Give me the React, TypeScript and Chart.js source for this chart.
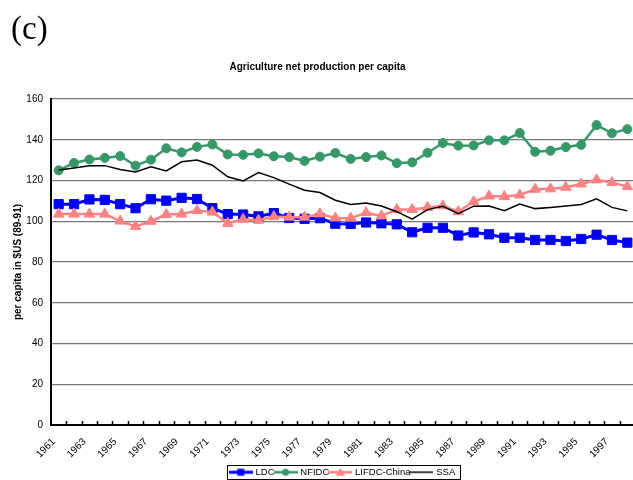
import React, { useEffect, useRef } from "react";
import { Chart, registerables } from "chart.js";

Chart.register(...registerables);

const years = [
  "1961", "1962", "1963", "1964", "1965", "1966", "1967", "1968", "1969", "1970",
  "1971", "1972", "1973", "1974", "1975", "1976", "1977", "1978", "1979", "1980",
  "1981", "1982", "1983", "1984", "1985", "1986", "1987", "1988", "1989", "1990",
  "1991", "1992", "1993", "1994", "1995", "1996", "1997", "1998",
];

const ldc = [
  108.4, 108.4, 110.7, 110.5, 108.4, 106.4, 110.8, 110.1, 111.5, 110.9,
  106.4, 103.5, 103.3, 102.4, 104.0, 101.6, 101.2, 101.5, 98.8, 98.7,
  99.4, 99.0, 98.5, 94.6, 96.8, 96.8, 93.0, 94.5, 93.6, 91.9,
  91.9, 90.8, 90.8, 90.3, 91.3, 93.4, 90.8, 89.5,
];

const nfidc = [
  125.0, 128.6, 130.3, 131.1, 132.0, 127.3, 130.2, 135.8, 133.8, 136.5,
  137.7, 132.8, 132.6, 133.3, 131.9, 131.5, 129.6, 131.7, 133.5, 130.6,
  131.5, 132.3, 128.5, 128.9, 133.6, 138.4, 137.1, 137.2, 139.7, 139.7,
  143.3, 134.1, 134.6, 136.4, 137.5, 147.2, 143.2, 145.2,
];

const lifdcChina = [
  103.5, 103.5, 103.5, 103.5, 100.1, 97.5, 100.0, 103.3, 103.5, 105.3,
  104.5, 99.0, 101.0, 100.5, 102.3, 102.0, 102.0, 103.6, 101.6, 101.5,
  104.2, 102.6, 105.8, 105.8, 106.8, 107.6, 104.7, 109.6, 112.4, 112.1,
  112.9, 115.7, 115.9, 116.7, 118.3, 120.3, 119.0, 117.0,
];

const ssa = [
  125.2, 126.1, 127.2, 127.3, 125.4, 124.2, 126.7, 124.7, 129.2, 130.1,
  127.5, 121.8, 119.8, 123.9, 121.4, 118.2, 115.2, 114.1, 110.3, 108.2,
  109.0, 107.5, 104.7, 101.0, 105.7, 107.3, 103.7, 107.4, 107.5, 105.2,
  108.4, 106.2, 106.8, 107.5, 108.2, 111.0, 106.8, 105.1,
];

const seriesNames = ["LDC", "NFIDC", "LIFDC-China", "SSA"];
const yMin = 0;
const yMax = 160;
const yStep = 20;

const FONT = "'Liberation Sans', Arial, sans-serif";

type Style = {
  color: string;
  width: number;
  point: false | "rect" | "circle" | "triangle";
  radius: number;
};

const styles: Style[] = [
  { color: "#0000FF", width: 3, point: "rect", radius: 6.5 },
  { color: "#339966", width: 2.5, point: "circle", radius: 4.5 },
  { color: "#FF8080", width: 2.5, point: "triangle", radius: 6 },
  { color: "#000000", width: 1.5, point: false, radius: 0 },
];

function makeSample(s: Style): HTMLCanvasElement {
  const c = document.createElement("canvas");
  c.width = 24;
  c.height = 12;
  const g = c.getContext("2d")!;
  g.strokeStyle = s.color;
  g.fillStyle = s.color;
  g.lineWidth = s.width;
  g.beginPath();
  g.moveTo(0, 6);
  g.lineTo(24, 6);
  g.stroke();
  if (s.point === "rect") {
    g.fillRect(8.5, 2.5, 7, 7);
  } else if (s.point === "circle") {
    g.beginPath();
    g.arc(12, 6, 3.5, 0, Math.PI * 2);
    g.fill();
  } else if (s.point === "triangle") {
    g.beginPath();
    g.moveTo(12, 1.5);
    g.lineTo(16.5, 9.5);
    g.lineTo(7.5, 9.5);
    g.closePath();
    g.fill();
  }
  return c;
}

const decorPlugin = {
  id: "decor",
  afterDraw(chart: any) {
    const ctx = chart.ctx as CanvasRenderingContext2D;
    const { left, right, bottom } = chart.chartArea;
    const n = years.length;
    ctx.save();
    ctx.strokeStyle = "#000";
    ctx.lineWidth = 1.5;
    for (let k = 1; k <= n; k++) {
      const px = Math.round(left + ((right - left) * k) / n) + 0.5;
      ctx.beginPath();
      ctx.moveTo(px, bottom);
      ctx.lineTo(px, bottom - 4);
      ctx.stroke();
    }
    const hb = chart.legend && chart.legend.legendHitBoxes;
    if (hb && hb.length) {
      let minL = Infinity;
      let maxR = -Infinity;
      hb.forEach((h: any) => {
        minL = Math.min(minL, h.left);
        maxR = Math.max(maxR, h.left + h.width);
      });
      ctx.lineWidth = 1;
      ctx.strokeStyle = "#000";
      const x0 = Math.round(minL - 4) + 0.5;
      const x1 = Math.round(maxR + 5) + 0.5;
      ctx.strokeRect(x0, 465.5, x1 - x0, 14);
    }
    ctx.restore();
  },
};

export default function App() {
  const ref = useRef<HTMLCanvasElement | null>(null);

  useEffect(() => {
    if (!ref.current) return;
    const samples = styles.map(makeSample);
    const seriesData = [ldc, nfidc, lifdcChina, ssa];
    const datasets = seriesNames.map((name, i) => {
      const s = styles[i];
      return {
        label: name,
        data: seriesData[i],
        borderColor: s.color,
        backgroundColor: s.color,
        borderWidth: s.width,
        pointStyle: s.point || "circle",
        pointRadius: s.point ? s.radius : 0,
        pointBorderWidth: 1,
        pointBorderColor: s.color,
        pointBackgroundColor: s.color,
        tension: 0,
        fill: false,
        order: seriesNames.length - i,
      };
    });

    const chart = new Chart(ref.current, {
      type: "line",
      data: { labels: years, datasets },
      plugins: [decorPlugin],
      options: {
        responsive: false,
        devicePixelRatio: 1,
        animation: false,
        layout: { padding: 0, autoPadding: false },
        plugins: {
          tooltip: { enabled: false },
          title: {
            display: true,
            text: "Agriculture net production per capita",
            color: "#000",
            font: { family: FONT, size: 10, weight: "bold" },
            padding: { top: 61, bottom: 26 },
          },
          legend: {
            display: true,
            position: "bottom",
            fullSize: false,
            labels: {
              usePointStyle: true,
              pointStyleWidth: 20,
              boxHeight: 10,
              padding: 1,
              color: "#000",
              font: { family: FONT, size: 9.5 },
              generateLabels: () =>
                seriesNames.map((name, i) => ({
                  text: name,
                  fillStyle: styles[i].color,
                  strokeStyle: styles[i].color,
                  lineWidth: 0,
                  pointStyle: samples[i] as any,
                  hidden: false,
                  datasetIndex: i,
                  fontColor: "#000",
                })),
            },
          },
        },
        scales: {
          x: {
            type: "category",
            offset: true,
            grid: {
              display: true,
              drawOnChartArea: false,
              drawTicks: false,
              offset: true,
            },
            border: { display: true, color: "#000", width: 2 },
            ticks: {
              autoSkip: false,
              maxRotation: 45,
              minRotation: 45,
              padding: 11,
              labelOffset: -5,
              color: "#000",
              font: { family: FONT, size: 10 },
              callback: (_v: any, idx: number) => (idx % 2 === 0 ? years[idx] : ""),
            },
            afterFit: (scale: any) => {
              scale.height = 41.5;
              scale.paddingLeft = 0;
              scale.paddingRight = 0;
            },
          },
          y: {
            min: yMin,
            max: yMax,
            grid: {
              color: "#777777",
              lineWidth: 1.2,
              drawTicks: false,
            },
            border: { display: true, color: "#000", width: 2 },
            ticks: {
              stepSize: yStep,
              padding: 8,
              color: "#000",
              font: { family: FONT, size: 10 },
            },
            title: {
              display: true,
              text: "per capita in $US (89-91)",
              color: "#000",
              font: { family: FONT, size: 10, weight: "bold" },
              padding: { top: 12.5, bottom: 0 },
            },
            afterFit: (scale: any) => {
              scale.width = 51;
              scale.paddingTop = 0;
              scale.paddingBottom = 0;
            },
          },
        },
      } as any,
    });
    return () => chart.destroy();
  }, []);

  return (
    <div
      style={{
        position: "absolute",
        left: 0,
        top: 0,
        width: 633,
        height: 480,
        overflow: "hidden",
        background: "#fff",
      }}
    >
      <canvas ref={ref} width={635} height={487} style={{ display: "block" }} />
      <span
        style={{
          position: "absolute",
          left: 11,
          top: 12,
          fontFamily: "'Liberation Serif', 'Times New Roman', serif",
          fontSize: 33,
          lineHeight: "33px",
          color: "#000",
        }}
      >
        (c)
      </span>
    </div>
  );
}
